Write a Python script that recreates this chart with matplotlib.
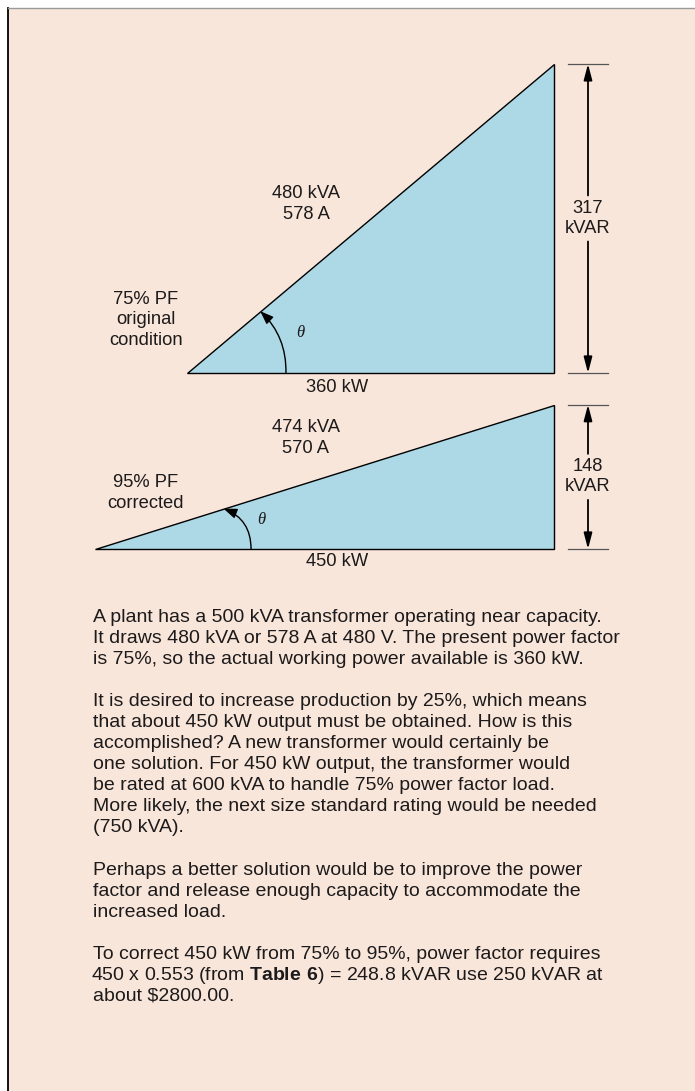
import matplotlib
matplotlib.use("Agg")
import matplotlib.pyplot as plt
from matplotlib.patches import Polygon, Rectangle, FancyArrowPatch
from matplotlib.lines import Line2D
from matplotlib.transforms import Affine2D

# power triangle values
conditions = ["75% PF\noriginal\ncondition", "95% PF\ncorrected"]
kw = [360, 450]
kvar = [317, 148]
kva = [480, 474]
amps = [578, 570]

# text under the triangles, one list per paragraph
para1 = ["A plant has a 500 kVA transformer operating near capacity.",
         "It draws 480 kVA or 578 A at 480 V. The present power factor",
         "is 75%, so the actual working power available is 360 kW."]
para2 = ["It is desired to increase production by 25%, which means",
         "that about 450 kW output must be obtained. How is this",
         "accomplished? A new transformer would certainly be",
         "one solution. For 450 kW output, the transformer would",
         "be rated at 600 kVA to handle 75% power factor load.",
         "More likely, the next size standard rating would be needed",
         "(750 kVA)."]
para3 = ["Perhaps a better solution would be to improve the power",
         "factor and release enough capacity to accommodate the",
         "increased load."]
para4 = ["To correct 450 kW from 75% to 95%, power factor requires",
         r"450 x 0.553 (from $\mathbf{Table\ 6}$) = 248.8 kVAR use 250 kVAR at",
         r"about \$2800.00."]

# layout (pixels)
W, H = 695, 1091
SX, SY = 1.02, 0.975          # pixels per kW / per kVAR
RIGHT_PX = 554
BASE_PX = [373, 549]
BG = "#f9e6db"
FILL = "#add8e6"
INK = "#1c1a1a"

plt.rcParams["font.family"] = "Liberation Sans"
plt.rcParams["mathtext.fontset"] = "custom"
plt.rcParams["mathtext.rm"] = "Liberation Sans"
plt.rcParams["mathtext.bf"] = "Liberation Sans:bold"

fig = plt.figure(figsize=(W / 100, H / 100), dpi=100)
pix = Affine2D().scale(1, -1).translate(0, H)   # top-left pixel coords

fig.add_artist(Rectangle((8, 8), W - 8, H - 8, transform=pix, fc=BG, ec="none", zorder=-10))
fig.add_artist(Line2D([8, 8], [8, H], transform=pix, color="black", lw=1.3, zorder=-5))
fig.add_artist(Line2D([8, W], [7.5, 7.5], transform=pix, color="#9a9a9a", lw=1.0, zorder=-5))

# diagram axes in kW / kVAR units
ax = fig.add_axes([0, 0, 1, 1])
ax.axis("off")
ax.set_xlim(-RIGHT_PX / SX, (W - RIGHT_PX) / SX)
ax.set_ylim((BASE_PX[0] - H) / SY, BASE_PX[0] / SY)
base = [0, -(BASE_PX[1] - BASE_PX[0]) / SY]

DIM_X = 34 / SX
TICK = (14 / SX, 54 / SX)
GAP = 23 / SY
ARC_START = [0.27, 0.34]   # fraction of base
ARC_END = [0.20, 0.28]     # fraction of hypotenuse
ARC_RAD = [0.22, 0.34]

KVA_POS = [(306, 204), (306, 438)]
PF_POS = [(146, 320), (146, 493)]
THETA_POS = [(300, 333), (261, 520)]
KW_POS = [(337, 387), (337, 562)]

LBL = 13.2
LS = 1.24
for i in range(2):
    b = base[i]
    top = b + kvar[i]
    ax.add_patch(Polygon([(-kw[i], b), (0, b), (0, top)], closed=True,
                         fc=FILL, ec="black", lw=1.0))

    # dimension line on the right
    for yy in (b, top):
        ax.plot(TICK, [yy, yy], color="#555555", lw=0.9)
    mid = b + kvar[i] / 2
    arrow = dict(arrowstyle="-|>,head_length=0.95,head_width=0.25", color="black",
                 lw=1.3, shrinkA=0, shrinkB=0)
    ax.annotate("", xy=(DIM_X, top), xytext=(DIM_X, mid + GAP), arrowprops=arrow)
    ax.annotate("", xy=(DIM_X, b), xytext=(DIM_X, mid - GAP), arrowprops=arrow)
    ax.text(DIM_X, mid, f"{kvar[i]}\nkVAR", ha="center", va="center", fontsize=LBL,
            linespacing=LS, color=INK)

    # angle arc
    x0 = -kw[i]
    pa = (x0 + ARC_START[i] * kw[i], b)
    pb = (x0 + ARC_END[i] * kw[i], b + ARC_END[i] * kvar[i])
    ax.add_patch(FancyArrowPatch(pa, pb, connectionstyle=f"arc3,rad={ARC_RAD[i]}",
                                 arrowstyle="-|>,head_length=0.8,head_width=0.3",
                                 mutation_scale=10, color="black", lw=1.0,
                                 shrinkA=0, shrinkB=0))

    fig.text(*KVA_POS[i], f"{kva[i]} kVA\n{amps[i]} A", transform=pix, ha="center",
             va="center", fontsize=LBL, linespacing=LS, color=INK)
    fig.text(*PF_POS[i], conditions[i], transform=pix, ha="center", va="center",
             fontsize=LBL, linespacing=LS, color=INK)
    fig.text(*THETA_POS[i], "θ", transform=pix, ha="center", va="center", fontsize=12,
             family="Liberation Serif", style="italic", color=INK)
    fig.text(*KW_POS[i], f"{kw[i]} kW", transform=pix, ha="center", va="center",
             fontsize=LBL, color=INK)

# paragraphs
TXT_X = 93
LINE = 21
starts = [622, 706, 875, 959]
for y0, lines in zip(starts, [para1, para2, para3, para4]):
    for j, s in enumerate(lines):
        dx = -2 if "$" in s and "mathbf" in s else 0   # mathtext adds a small lead-in
        fig.text(TXT_X + dx, y0 + j * LINE, s, transform=pix, ha="left", va="baseline",
                 fontsize=14.0, color=INK)

fig.savefig("out.png", dpi=100)
